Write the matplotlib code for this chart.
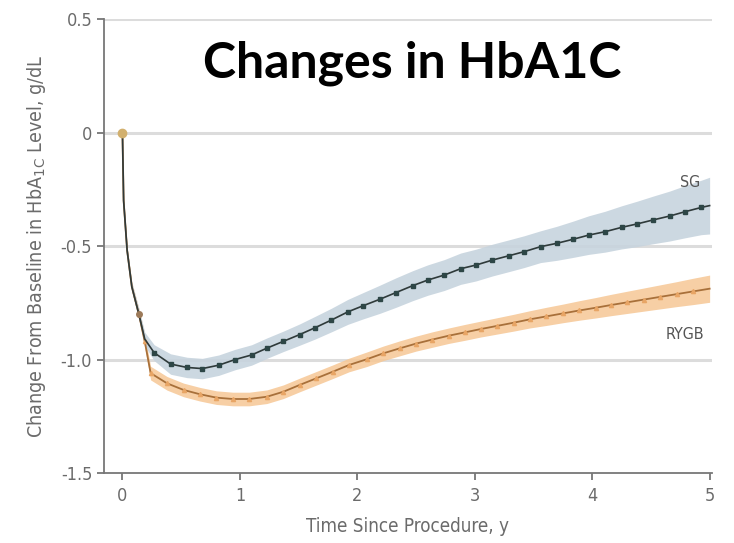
import matplotlib
matplotlib.use('Agg')
from matplotlib import pyplot as plt
import numpy as np

# 時間（年）と平均変化量 - SG
sg_time = [0, 0.01, 0.04, 0.08, 0.14, 0.19, 0.27, 0.41, 0.55, 0.68, 0.82, 0.96,
           1.10, 1.23, 1.37, 1.51, 1.64, 1.78, 1.92, 2.05, 2.19, 2.33, 2.47, 2.60,
           2.74, 2.88, 3.01, 3.15, 3.29, 3.42, 3.56, 3.70, 3.84, 3.97, 4.11, 4.25,
           4.38, 4.52, 4.66, 4.79, 4.93, 5.0]
sg_mean = [0, -0.30, -0.52, -0.68, -0.80, -0.91, -0.97, -1.02, -1.035, -1.04, -1.025, -1.00,
           -0.98, -0.95, -0.92, -0.89, -0.86, -0.826, -0.79, -0.763, -0.735, -0.705, -0.675, -0.65,
           -0.628, -0.60, -0.584, -0.562, -0.543, -0.525, -0.503, -0.488, -0.47, -0.452, -0.437, -0.418,
           -0.403, -0.385, -0.368, -0.349, -0.33, -0.322]
sg_ci = [0, 0.01, 0.015, 0.02, 0.025, 0.03, 0.035, 0.045, 0.045, 0.045, 0.045, 0.045,
         0.045, 0.045, 0.045, 0.047, 0.05, 0.052, 0.055, 0.058, 0.062, 0.065, 0.066, 0.067,
         0.068, 0.069, 0.07, 0.07, 0.07, 0.07, 0.07, 0.075, 0.08, 0.085, 0.09, 0.095,
         0.10, 0.105, 0.11, 0.115, 0.12, 0.125]

# RYGB
rygb_time = [0, 0.01, 0.04, 0.08, 0.14, 0.19, 0.24, 0.38, 0.52, 0.66, 0.80, 0.94,
             1.08, 1.23, 1.37, 1.51, 1.65, 1.79, 1.93, 2.08, 2.22, 2.36, 2.50, 2.64,
             2.78, 2.92, 3.05, 3.19, 3.33, 3.47, 3.61, 3.75, 3.89, 4.03, 4.16, 4.30,
             4.44, 4.58, 4.72, 4.86, 5.0]
rygb_mean = [0, -0.30, -0.52, -0.68, -0.80, -0.92, -1.06, -1.105, -1.134, -1.153, -1.168, -1.174,
             -1.174, -1.164, -1.142, -1.112, -1.083, -1.054, -1.024, -0.999, -0.973, -0.951, -0.930, -0.912,
             -0.895, -0.880, -0.866, -0.852, -0.838, -0.823, -0.810, -0.797, -0.784, -0.772, -0.760, -0.748,
             -0.736, -0.724, -0.712, -0.700, -0.688]
rygb_ci = [0, 0.01, 0.015, 0.02, 0.025, 0.028, 0.03, 0.03, 0.03, 0.03, 0.03, 0.03,
           0.03, 0.03, 0.03, 0.03, 0.03, 0.03, 0.03, 0.032, 0.032, 0.033, 0.033, 0.034,
           0.034, 0.035, 0.035, 0.036, 0.037, 0.038, 0.04, 0.041, 0.043, 0.045, 0.047, 0.049,
           0.051, 0.053, 0.055, 0.058, 0.06]

y_ticks = [0.5, 0, -0.5, -1.0, -1.5]
y_tick_labels = ['0.5', '0', '-0.5', '-1.0', '-1.5']
x_ticks = [0, 1, 2, 3, 4, 5]

label_font = ['DejaVu Sans']
gray = '#6b6b6b'

fig = plt.figure(figsize=(7.34, 5.43), dpi=100)
ax = fig.add_axes([0.1417, 0.1289, 0.8283, 0.8361])

sg_t = np.array(sg_time)
sg_m = np.array(sg_mean)
sg_c = np.array(sg_ci)
ry_t = np.array(rygb_time)
ry_m = np.array(rygb_mean)
ry_c = np.array(rygb_ci)

# グリッド線
for yv in [0.5, 0, -0.5, -1.0]:
    ax.axhline(yv, color='#dcdcdc', lw=2.2, zorder=0)

# 信頼区間
ax.fill_between(ry_t, ry_m - ry_c, ry_m + ry_c, color='#f6c795', alpha=0.85, lw=0, zorder=1)
ax.fill_between(sg_t, sg_m - sg_c, sg_m + sg_c, color='#c7d4de', alpha=0.9, lw=0, zorder=2)

# RYGB
ax.plot(ry_t, ry_m, color='#a8703a', lw=1.3, zorder=3,
        marker='^', markersize=3, markerfacecolor='#e8a565', markeredgecolor='#e8a565',
        markevery=list(range(4, len(rygb_time) - 1)))
# SG
ax.plot(sg_t, sg_m, color='#2f3a3a', lw=1.2, zorder=4,
        marker='s', markersize=3.5, markerfacecolor='#2d4646', markeredgecolor='#2d4646',
        markevery=list(range(6, len(sg_time) - 1)))
# 起点とy=-0.8の点
ax.plot([sg_time[0]], [sg_mean[0]], 'o', color='#d2b06e', markersize=6, zorder=5)
ax.plot([sg_time[4]], [sg_mean[4]], 'o', color='#9c7a5a', markersize=4, zorder=5)

ax.text(4.92, -0.22, 'SG', ha='right', va='center', fontsize=11.5, color='#555555',
        family=label_font, fontstretch='condensed')
ax.text(4.95, -0.89, 'RYGB', ha='right', va='center', fontsize=11.5, color='#555555',
        family=label_font, fontstretch='condensed')

ax.set_xlim(-0.157, 5.02)
ax.set_ylim(-1.5, 0.5)
ax.set_yticks(y_ticks)
ax.set_yticklabels(y_tick_labels, family=label_font, fontstretch='condensed')
ax.set_xticks(x_ticks)
ax.set_xticklabels([str(v) for v in x_ticks], family=label_font, fontstretch='condensed')
ax.tick_params(axis='both', colors=gray, labelsize=13, length=5, width=1.2, direction='out')
ax.tick_params(axis='x', pad=5)
for s in ['top', 'right']:
    ax.spines[s].set_visible(False)
for s in ['left', 'bottom']:
    ax.spines[s].set_color('#777777')
    ax.spines[s].set_linewidth(1.3)

ax.set_xlabel('Time Since Procedure, y', fontsize=13.5, color=gray, family=label_font,
              fontstretch='condensed', labelpad=9)
ax.set_ylabel(r'Change From Baseline in HbA$_{\mathrm{1C}}$ Level, g/dL', fontsize=14, color=gray,
              family=label_font, fontstretch='condensed', labelpad=9)

fig.text(0.561, 0.8564, 'Changes in HbA1C', ha='center', va='baseline',
         fontsize=36, fontweight='bold', family=['Lato', 'DejaVu Sans'], color='black')

fig.savefig('out.png', dpi=100)
